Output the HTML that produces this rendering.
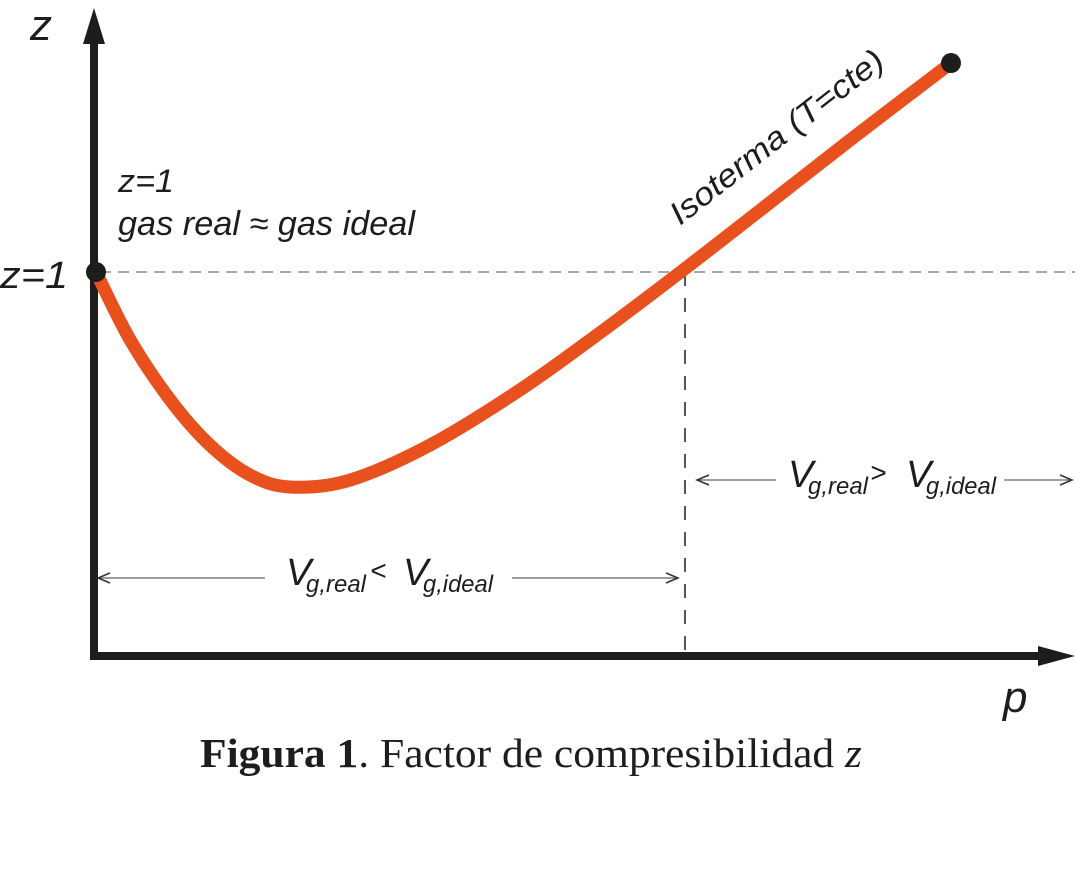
<!DOCTYPE html>
<html><head><meta charset="utf-8"><style>
html,body{margin:0;padding:0;background:#fff;}
svg{display:block;}
text{fill:#1d1d1b;}
.it{font-family:"Liberation Sans",sans-serif;font-style:italic;}
</style></head><body>
<svg id="chart" width="1075" height="872" viewBox="0 0 1075 872">
<line x1="100" y1="272" x2="1075" y2="272" stroke="#8a8a8a" stroke-width="1.6" stroke-dasharray="11 7"/>
<line x1="685" y1="272" x2="685" y2="656" stroke="#1d1d1b" stroke-width="1.5" stroke-dasharray="14 12"/>
<line x1="94" y1="660" x2="94" y2="40" stroke="#1d1d1b" stroke-width="8"/>
<polygon points="94,8 83,44 105,44" fill="#1d1d1b"/>
<line x1="90" y1="656" x2="1040" y2="656" stroke="#1d1d1b" stroke-width="8"/>
<polygon points="1075,656 1038,646 1038,666" fill="#1d1d1b"/>
<g id="curve"></g>
<text class="it" x="30" y="40" font-size="44">z</text>
<text class="it" x="0" y="288" font-size="38" textLength="68" lengthAdjust="spacingAndGlyphs">z=1</text>
<text class="it" x="118" y="192" font-size="32" textLength="56" lengthAdjust="spacingAndGlyphs">z=1</text>
<text class="it" x="118" y="235" font-size="34" textLength="297" lengthAdjust="spacingAndGlyphs">gas real ≈ gas ideal</text>
<text class="it" x="0" y="0" font-size="32" textLength="262" lengthAdjust="spacingAndGlyphs" transform="translate(680,226) rotate(-38)">Isoterma (T=cte)</text>
<text class="it" x="1003" y="712" font-size="44">p</text>
<g>
<line x1="98" y1="578" x2="265" y2="578" stroke="#666" stroke-width="1.2"/>
<polyline points="110,573 98,578 110,583" fill="none" stroke="#333" stroke-width="1.5"/>
<line x1="512" y1="578" x2="678" y2="578" stroke="#666" stroke-width="1.2"/>
<polyline points="666,573 678,578 666,583" fill="none" stroke="#333" stroke-width="1.5"/>
<text class="it" x="286" y="585" font-size="38">V</text>
<text class="it" x="306" y="592" font-size="24" textLength="60" lengthAdjust="spacingAndGlyphs">g,real</text>
<text class="it" x="370" y="580" font-size="28">&lt;</text>
<text class="it" x="403" y="585" font-size="38">V</text>
<text class="it" x="423" y="592" font-size="24" textLength="70" lengthAdjust="spacingAndGlyphs">g,ideal</text>
</g>
<g>
<line x1="697" y1="480" x2="776" y2="480" stroke="#666" stroke-width="1.2"/>
<polyline points="709,475 697,480 709,485" fill="none" stroke="#333" stroke-width="1.5"/>
<line x1="1004" y1="480" x2="1072" y2="480" stroke="#666" stroke-width="1.2"/>
<polyline points="1060,475 1072,480 1060,485" fill="none" stroke="#333" stroke-width="1.5"/>
<text class="it" x="788" y="487" font-size="38">V</text>
<text class="it" x="808" y="494" font-size="24" textLength="60" lengthAdjust="spacingAndGlyphs">g,real</text>
<text class="it" x="870" y="482" font-size="28">&gt;</text>
<text class="it" x="906" y="487" font-size="38">V</text>
<text class="it" x="926" y="494" font-size="24" textLength="70" lengthAdjust="spacingAndGlyphs">g,ideal</text>
</g>
<text x="200" y="767" font-size="34" font-family="'Liberation Serif',serif" textLength="662" lengthAdjust="spacingAndGlyphs" style="font-size:41px"><tspan font-weight="bold">Figura 1</tspan>. Factor de compresibilidad <tspan font-style="italic">z</tspan></text>
</svg>
<script>
const pressure = [0, 0.4, 0.87, 1.33, 1.8, 2.27, 2.97, 3.91, 4.96, 5.89, 6.87, 7.77, 8.82, 10];
const zFactor = [1, 0.842, 0.702, 0.598, 0.528, 0.5, 0.516, 0.598, 0.726, 0.858, 1.005, 1.144, 1.307, 1.486];
const xScale = p => 96 + p * 85.5;
const yScale = z => 272 - (z - 1) * 430;
const ns = "http://www.w3.org/2000/svg";
const pts = pressure.map((p, i) => [xScale(p), yScale(zFactor[i])]);
let d = `M${pts[0][0]},${pts[0][1]}`;
for (let i = 0; i < pts.length - 1; i++) {
  const p0 = pts[Math.max(0, i - 1)], p1 = pts[i], p2 = pts[i + 1], p3 = pts[Math.min(pts.length - 1, i + 2)];
  const c1 = [p1[0] + (p2[0] - p0[0]) / 6, p1[1] + (p2[1] - p0[1]) / 6];
  const c2 = [p2[0] - (p3[0] - p1[0]) / 6, p2[1] - (p3[1] - p1[1]) / 6];
  d += ` C${c1[0]},${c1[1]} ${c2[0]},${c2[1]} ${p2[0]},${p2[1]}`;
}
const g = document.getElementById('curve');
const path = document.createElementNS(ns, 'path');
path.setAttribute('d', d);
path.setAttribute('fill', 'none');
path.setAttribute('stroke', '#e8501d');
path.setAttribute('stroke-width', '13');


g.appendChild(path);
[0, pts.length - 1].forEach(i => {
  const c = document.createElementNS(ns, 'circle');
  c.setAttribute('cx', pts[i][0]);
  c.setAttribute('cy', pts[i][1]);
  c.setAttribute('r', '10');
  c.setAttribute('fill', '#1d1d1b');
  
  
  g.appendChild(c);
});
</script>
</body></html>
